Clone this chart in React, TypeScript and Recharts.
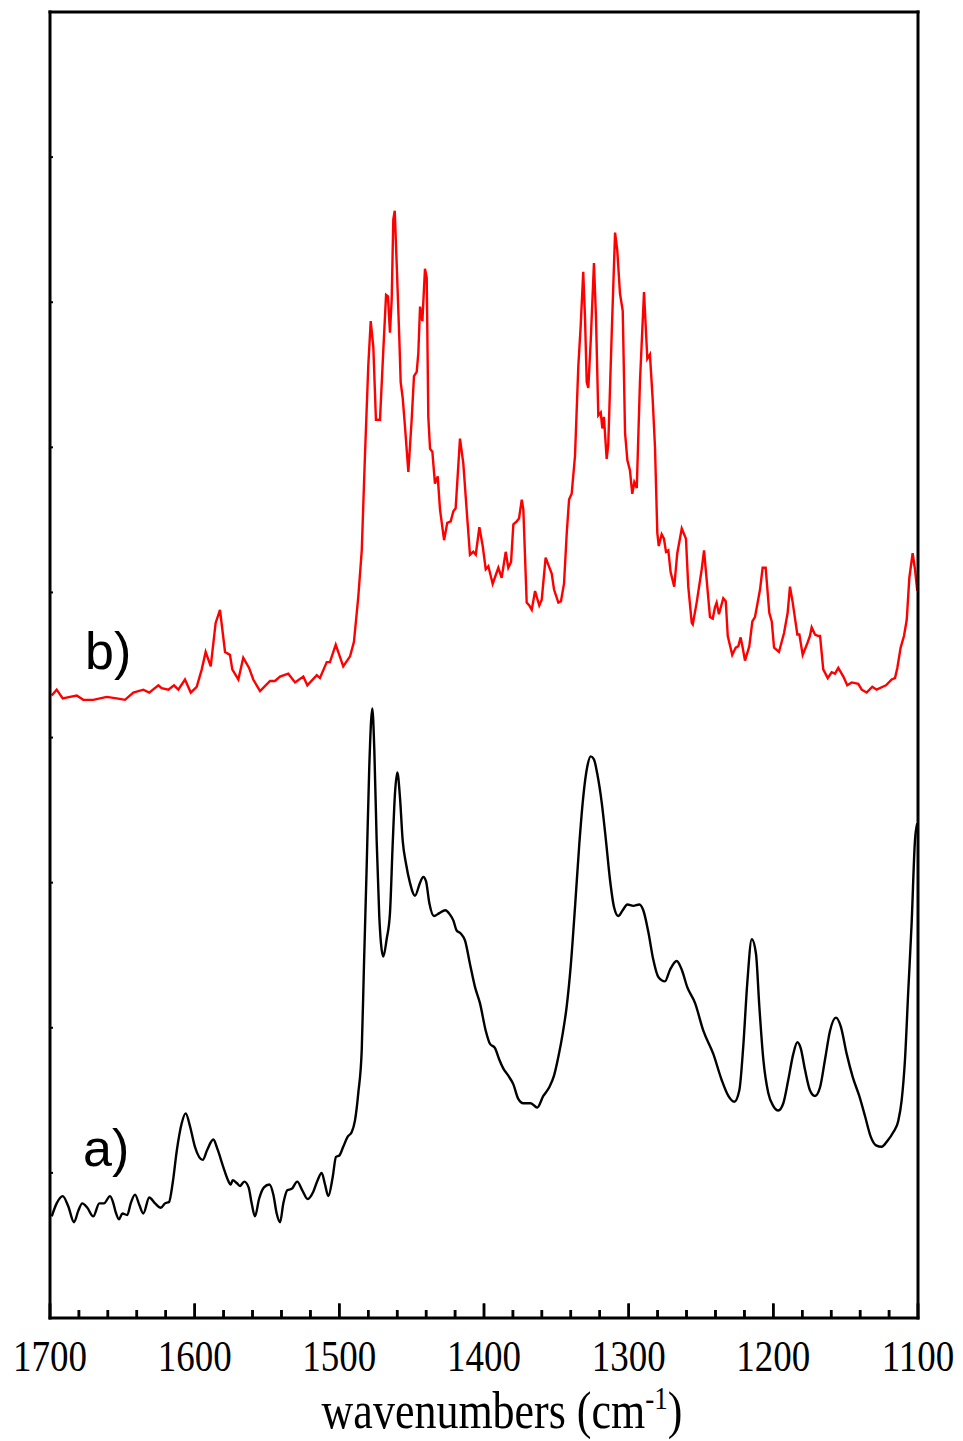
import React from 'react';
import { LineChart, Line, XAxis, YAxis, ReferenceDot, ReferenceLine } from 'recharts';

// ---- spectrum b) (red) ----
const wavenumbersB = [
  1698.8, 1695.4, 1691.2, 1686.2, 1681.5, 1677.0, 1670.1, 1660.8, 1653.9, 1648.2,
  1642.4, 1635.5, 1631.4, 1625.1, 1622.8, 1618.2, 1614.3, 1611.3, 1606.7, 1602.7,
  1598.6, 1595.1, 1592.4, 1588.9, 1585.5, 1582.5, 1579.0, 1575.6, 1574.0, 1569.8,
  1566.4, 1562.4, 1559.5, 1554.8, 1547.9, 1544.5, 1541.0, 1535.3, 1530.6, 1524.9,
  1522.1, 1515.6, 1513.4, 1508.7, 1506.5, 1502.5, 1497.3, 1492.6, 1489.9, 1486.9,
  1484.5, 1482.3, 1480.0, 1478.3, 1476.5, 1474.7, 1471.9, 1469.6, 1467.7, 1466.4,
  1465.0, 1463.8, 1462.7, 1461.7, 1460.3, 1458.5, 1457.6, 1456.2, 1454.6, 1452.3,
  1450.0, 1448.4, 1446.5, 1445.4, 1444.2, 1442.6, 1440.8, 1439.6, 1438.5, 1437.3,
  1435.7, 1433.9, 1432.0, 1430.4, 1427.6, 1425.4, 1423.0, 1421.2, 1419.6, 1416.6,
  1414.3, 1412.0, 1409.7, 1407.4, 1405.7, 1403.2, 1400.9, 1398.8, 1397.0, 1394.0,
  1390.1, 1387.8, 1385.0, 1383.2, 1381.3, 1379.7, 1377.4, 1375.8, 1373.9, 1372.8,
  1370.5, 1368.7, 1367.0, 1364.7, 1361.8, 1360.1, 1357.4, 1355.1, 1353.2, 1351.6,
  1348.6, 1346.8, 1344.7, 1342.8, 1341.2, 1339.4, 1337.1, 1334.8, 1333.2, 1331.4,
  1330.2, 1329.0, 1327.9, 1326.2, 1324.0, 1322.6, 1321.0, 1319.3, 1318.2, 1317.1,
  1315.2, 1314.1, 1311.7, 1309.4, 1307.9, 1306.0, 1304.1, 1302.5, 1300.9, 1299.1,
  1297.5, 1296.1, 1294.4, 1292.2,
  1289.4, 1287.1, 1285.3, 1283.4, 1281.8, 1280.2, 1279.2, 1277.2, 1275.6, 1274.2,
  1272.6, 1271.0, 1268.5, 1266.4, 1263.3, 1260.4, 1258.8, 1256.4, 1255.7, 1253.0,
  1249.5, 1247.9, 1246.1, 1243.8, 1241.9, 1240.3, 1239.2, 1237.6, 1234.6, 1232.9,
  1231.5, 1228.4, 1226.0, 1224.2, 1222.6, 1221.2, 1219.6, 1216.6, 1214.5, 1212.7,
  1209.2, 1207.4, 1205.3, 1202.8, 1201.1, 1199.5, 1196.1, 1192.6, 1190.1, 1188.5,
  1186.6, 1183.4, 1182.0, 1179.7, 1176.5, 1174.7, 1173.5, 1171.2, 1168.9, 1167.7,
  1165.5, 1162.4, 1159.7, 1157.4, 1155.1, 1151.6, 1148.9, 1145.8, 1141.3, 1138.9,
  1135.5, 1131.6, 1128.6, 1124.4, 1122.1, 1118.2, 1115.9, 1114.3, 1112.0, 1109.7,
  1107.8, 1106.0, 1103.7, 1102.1, 1100.5,
];
const absorbanceB = [
  4.29, 4.33, 4.27, 4.28, 4.29, 4.26, 4.26, 4.28, 4.27, 4.26,
  4.31, 4.33, 4.31, 4.36, 4.34, 4.33, 4.36, 4.33, 4.40, 4.31,
  4.35, 4.47, 4.59, 4.49, 4.79, 4.88, 4.59, 4.57, 4.47, 4.40,
  4.55, 4.48, 4.40, 4.32, 4.39, 4.39, 4.42, 4.44, 4.38, 4.42,
  4.36, 4.43, 4.41, 4.52, 4.52, 4.64, 4.49, 4.56, 4.66, 4.97,
  5.29, 5.94, 6.56, 6.87, 6.69, 6.19, 6.19, 6.67, 7.05, 7.04,
  6.79, 7.02, 7.57, 7.63, 7.25, 6.74, 6.45, 6.34, 6.14, 5.83,
  6.19, 6.49, 6.52, 6.65, 6.97, 6.87, 7.23, 7.17, 6.21, 5.99,
  5.97, 5.75, 5.80, 5.57, 5.36, 5.48, 5.49, 5.56, 5.58, 6.06,
  5.89, 5.57, 5.26, 5.28, 5.26, 5.45, 5.32, 5.16, 5.18, 5.06,
  5.17, 5.10, 5.28, 5.17, 5.21, 5.47, 5.49, 5.51, 5.64, 5.57,
  4.93, 4.91, 4.88, 5.01, 4.91, 4.95, 5.24, 5.18, 5.13, 5.02,
  4.93, 4.94, 5.06, 5.41, 5.64, 5.68, 5.94, 6.56, 6.83, 7.21,
  6.90, 6.45, 6.41, 6.74, 7.27, 6.90, 6.22, 6.24, 6.13, 6.21,
  5.92, 6.02, 6.79, 7.48, 7.36, 7.06, 6.94, 6.10, 5.91, 5.84,
  5.68, 5.76, 5.72, 6.45,
  7.07, 6.61, 6.64, 6.33, 6.00, 5.41, 5.32, 5.40, 5.37, 5.28,
  5.29, 5.14, 5.04, 5.27, 5.44, 5.37, 5.04, 4.79, 4.78, 4.93,
  5.16, 5.29, 5.09, 4.83, 4.82, 4.90, 4.93, 4.85, 4.96, 4.94,
  4.70, 4.57, 4.62, 4.63, 4.69, 4.62, 4.53, 4.63, 4.80, 4.83,
  5.02, 5.17, 5.17, 4.86, 4.80, 4.62, 4.59, 4.72, 4.86, 5.04,
  4.93, 4.71, 4.71, 4.57, 4.65, 4.70, 4.76, 4.71, 4.70, 4.70,
  4.47, 4.41, 4.45, 4.44, 4.48, 4.42, 4.36, 4.38, 4.37, 4.33,
  4.31, 4.35, 4.33, 4.35, 4.36, 4.40, 4.41, 4.48, 4.62, 4.70,
  4.81, 5.10, 5.27, 5.16, 5.01,
];

// ---- spectrum a) (black) ----
const wavenumbersA = [
  1698.8, 1695.4, 1691.2, 1687.4, 1683.4, 1680.4, 1677.7, 1674.2, 1670.1, 1665.9,
  1662.7, 1658.5, 1656.2, 1654.6, 1652.3, 1650.0, 1646.6, 1644.2, 1641.2, 1638.3,
  1635.5, 1631.4, 1627.4, 1623.3, 1620.5, 1617.7, 1615.2, 1612.4, 1609.0, 1606.2,
  1603.2, 1599.8, 1594.4, 1591.3, 1587.1, 1584.1, 1580.2, 1577.4, 1575.1, 1573.7,
  1570.9, 1568.7, 1565.7, 1562.7, 1560.6, 1558.3, 1555.5, 1552.1, 1548.4, 1545.6,
  1543.3, 1541.0, 1538.7, 1536.0, 1532.9, 1529.1, 1525.6, 1521.9, 1518.0, 1515.0,
  1512.2, 1509.9, 1507.6, 1504.6, 1502.3, 1500.0, 1497.3, 1494.2, 1491.5, 1489.2,
  1486.9, 1484.5, 1483.0, 1481.1, 1479.3, 1477.2, 1475.8, 1474.2, 1472.4, 1471.2,
  1469.6, 1467.3, 1465.0, 1463.1, 1461.5, 1459.9, 1458.1, 1456.2, 1453.9, 1451.2,
  1447.7, 1444.2, 1442.0, 1440.1, 1437.8, 1434.6, 1430.9, 1426.8, 1423.5, 1421.2,
  1418.9, 1416.1, 1413.1, 1409.7, 1406.2, 1402.8, 1398.8, 1395.9, 1392.4, 1389.4,
  1386.7, 1383.2, 1379.7, 1376.3, 1372.8, 1367.7, 1363.2, 1359.0, 1354.9, 1351.6,
  1348.6, 1345.6, 1342.8, 1340.1, 1337.1, 1334.1, 1331.4, 1328.6, 1326.2, 1324.0,
  1321.7, 1318.6, 1315.7, 1312.9, 1310.1, 1307.2, 1304.1, 1300.9, 1296.8, 1292.6,
  1289.9, 1286.4, 1283.0, 1279.5, 1274.9, 1271.4, 1266.8, 1263.3, 1259.5, 1254.1,
  1248.4, 1241.5, 1235.7, 1231.1, 1227.0, 1223.5, 1220.8, 1218.0, 1214.9, 1212.0,
  1209.7, 1206.9, 1203.5, 1200.0, 1196.6, 1193.1, 1189.7, 1186.2, 1183.4, 1181.1,
  1178.1, 1174.7, 1171.2, 1167.7, 1164.3, 1160.8, 1156.7, 1153.4, 1149.3, 1145.1,
  1140.6, 1136.6, 1132.7, 1129.0, 1125.1, 1121.2, 1117.1, 1113.6, 1111.3, 1109.0,
  1106.7, 1104.4, 1102.1, 1100.5,
];
const absorbanceA = [
  0.70, 0.79, 0.84, 0.77, 0.66, 0.74, 0.79, 0.76, 0.70, 0.79,
  0.79, 0.84, 0.79, 0.73, 0.68, 0.72, 0.71, 0.79, 0.85, 0.78,
  0.72, 0.83, 0.79, 0.76, 0.79, 0.80, 0.93, 1.15, 1.34, 1.41,
  1.32, 1.18, 1.09, 1.16, 1.23, 1.16, 1.04, 0.96, 0.92, 0.95,
  0.93, 0.91, 0.94, 0.90, 0.79, 0.70, 0.82, 0.90, 0.92, 0.85,
  0.72, 0.66, 0.79, 0.88, 0.89, 0.94, 0.88, 0.82, 0.87, 0.95,
  1.00, 0.92, 0.84, 0.97, 1.11, 1.12, 1.18, 1.25, 1.28, 1.36,
  1.55, 1.85, 2.42, 3.11, 3.80, 4.20, 3.91, 3.29, 2.77, 2.58,
  2.49, 2.61, 2.79, 3.27, 3.62, 3.76, 3.59, 3.29, 3.13, 3.00,
  2.91, 3.00, 3.04, 3.01, 2.86, 2.77, 2.79, 2.81, 2.78, 2.74,
  2.67, 2.65, 2.60, 2.44, 2.28, 2.17, 1.98, 1.89, 1.86, 1.78,
  1.72, 1.67, 1.61, 1.51, 1.48, 1.48, 1.45, 1.53, 1.59, 1.67,
  1.80, 1.96, 2.15, 2.42, 2.83, 3.27, 3.59, 3.80, 3.87, 3.85,
  3.75, 3.55, 3.29, 3.02, 2.83, 2.77, 2.81, 2.85, 2.84, 2.85,
  2.81, 2.66, 2.47, 2.35, 2.32, 2.40, 2.46, 2.40, 2.28, 2.17,
  1.98, 1.82, 1.64, 1.53, 1.49, 1.57, 1.87, 2.31, 2.61, 2.51,
  2.15, 1.78, 1.55, 1.46, 1.43, 1.48, 1.64, 1.82, 1.90, 1.86,
  1.71, 1.57, 1.53, 1.59, 1.78, 1.98, 2.07, 2.01, 1.82, 1.66,
  1.53, 1.39, 1.25, 1.19, 1.18, 1.22, 1.28, 1.36, 1.50, 1.78,
  2.26, 2.72, 3.29, 3.41,
];

// ---- axes ----
const xTicks = [
  1700, 1680, 1660, 1640, 1620, 1600, 1580, 1560, 1540, 1520, 1500,
  1480, 1460, 1440, 1420, 1400, 1380, 1360, 1340, 1320, 1300,
  1280, 1260, 1240, 1220, 1200, 1180, 1160, 1140, 1120, 1100,
];
const xLabelTicks = [1700, 1600, 1500, 1400, 1300, 1200, 1100];
const yTicks = [0, 1, 2, 3, 4, 5, 6, 7, 8, 9];
const yMin = 0;
const yMax = 9;
const tickBase = 0.002;
const majorTickLength = 0.1;  // inward tick length, y-axis units
const minorTickLength = 0.055;
const xTitle = 'wavenumbers (cm';
const xTitleSup = '-1';

// ---- series labels ----
const seriesLabels = ['a)', 'b)'];
const labelWavenumbers = [1677.2, 1675.8];
const labelValues = [1.05, 4.47];

const dataA = wavenumbersA.map((w, i) => ({ w, v: absorbanceA[i] }));
const dataB = wavenumbersB.map((w, i) => ({ w, v: absorbanceB[i] }));
const tickLen = (t: number) => (xLabelTicks.includes(t) ? majorTickLength : minorTickLength);
// inward tick marks of the bottom axis, drawn as broken line segments
const bottomTickMarks = xTicks.flatMap((t) => [
  { w: t, v: tickBase },
  { w: t, v: yMin + tickLen(t) },
  { w: t, v: null },
]);

const SERIF = "'Liberation Serif', 'Times New Roman', serif";
const SANS = "'Liberation Sans', Arial, sans-serif";
const TEXT_STRETCH = 1.2;

const LabelTick = (props: any) => {
  const { x, y, payload } = props;
  return (
    <text
      transform={`translate(${x},${y + 53}) scale(1,${TEXT_STRETCH})`}
      textAnchor="middle"
      fontFamily={SERIF}
      fontSize={37}
      fill="#000"
    >
      {payload.value}
    </text>
  );
};

const EmptyTick = () => <g />;

const LeftTick = (props: any) => {
  const { x, y } = props;
  return <line x1={x} x2={x + 3} y1={y} y2={y} stroke="#000" strokeWidth={2} />;
};

const RightTick = (props: any) => {
  const { x, y } = props;
  return <line x1={x} x2={x - 3} y1={y} y2={y} stroke="#000" strokeWidth={2} />;
};

const XTitle = (props: any) => {
  const vb = props.viewBox || {};
  const cx = vb.x + vb.width / 2 + 18;
  const cy = vb.y + 110;
  return (
    <text
      transform={`translate(${cx},${cy}) scale(1,${TEXT_STRETCH})`}
      textAnchor="middle"
      fontFamily={SERIF}
      fontSize={44}
      fill="#000"
    >
      {xTitle}
      <tspan dy={-16} fontSize={27}>{xTitleSup}</tspan>
      <tspan dy={16}>)</tspan>
    </text>
  );
};

const axisLineStyle = { stroke: '#000', strokeWidth: 3, strokeLinecap: 'square' as const };
const tickLineStyle = { stroke: '#000', strokeWidth: 2.5 };

export default function App() {
  return (
    <div style={{ position: 'fixed', left: 0, top: 0, width: 963, height: 1441, background: '#fff' }}>
      <LineChart width={963} height={1441} margin={{ top: 11, right: 44, bottom: 0, left: 49 }}>
        <XAxis
          dataKey="w"
          type="number"
          domain={[1100, 1700]}
          reversed
          ticks={xLabelTicks}
          interval={0}
          height={123}
          tickSize={0}
          tickMargin={0}
          tickLine={false}
          axisLine={axisLineStyle}
          tick={<LabelTick />}
          label={<XTitle />}
        />
        <XAxis
          xAxisId="minorTicks"
          dataKey="w"
          type="number"
          domain={[1100, 1700]}
          reversed
          mirror
          ticks={xTicks}
          interval={0}
          height={1}
          tickSize={8}
          tickLine={tickLineStyle}
          tick={<EmptyTick />}
          axisLine={false}
        />
        <XAxis
          xAxisId="majorTicks"
          dataKey="w"
          type="number"
          domain={[1100, 1700]}
          reversed
          mirror
          ticks={xLabelTicks}
          interval={0}
          height={1}
          tickSize={14}
          tickLine={tickLineStyle}
          tick={<EmptyTick />}
          axisLine={false}
        />
        <XAxis
          xAxisId="top"
          orientation="top"
          dataKey="w"
          type="number"
          domain={[1100, 1700]}
          reversed
          ticks={xTicks}
          interval={0}
          height={1}
          tickSize={0}
          tickMargin={0}
          tickLine={false}
          tick={false}
          axisLine={axisLineStyle}
        />
        <YAxis
          type="number"
          domain={[yMin, yMax]}
          ticks={yTicks}
          interval={0}
          width={1}
          tickSize={0}
          tickMargin={0}
          tickLine={false}
          axisLine={axisLineStyle}
          tick={<LeftTick />}
        />
        <YAxis
          yAxisId="right"
          orientation="right"
          type="number"
          domain={[yMin, yMax]}
          ticks={yTicks}
          interval={0}
          width={1}
          tickSize={0}
          tickMargin={0}
          tickLine={false}
          axisLine={axisLineStyle}
          tick={<RightTick />}
        />
        {xTicks.map((t) => (
          <ReferenceLine
            key={`rl${t}`}
            segment={[
              { x: t, y: tickBase },
              { x: t, y: yMin + tickLen(t) },
            ]}
            stroke="#000"
            strokeWidth={2.5}
            ifOverflow="visible"
          />
        ))}
        <Line
          data={bottomTickMarks}
          dataKey="v"
          type="linear"
          stroke="#000000"
          strokeWidth={2.5}
          dot={false}
          connectNulls={false}
          isAnimationActive={false}
        />
        <Line
          data={dataB}
          dataKey="v"
          type="linear"
          stroke="#ff0000"
          strokeWidth={2.4}
          dot={false}
          isAnimationActive={false}
        />
        <Line
          data={dataA}
          dataKey="v"
          type="monotone"
          stroke="#000000"
          strokeWidth={2.4}
          dot={false}
          isAnimationActive={false}
        />
        {seriesLabels.map((s, i) => (
          <ReferenceDot
            key={s}
            x={labelWavenumbers[i]}
            y={labelValues[i]}
            r={1}
            ifOverflow="visible"
            shape={(p: any) => (
              <text x={p.cx} y={p.cy} fontFamily={SANS} fontSize={52} fill="#000">
                {s}
              </text>
            )}
          />
        ))}
      </LineChart>
    </div>
  );
}
